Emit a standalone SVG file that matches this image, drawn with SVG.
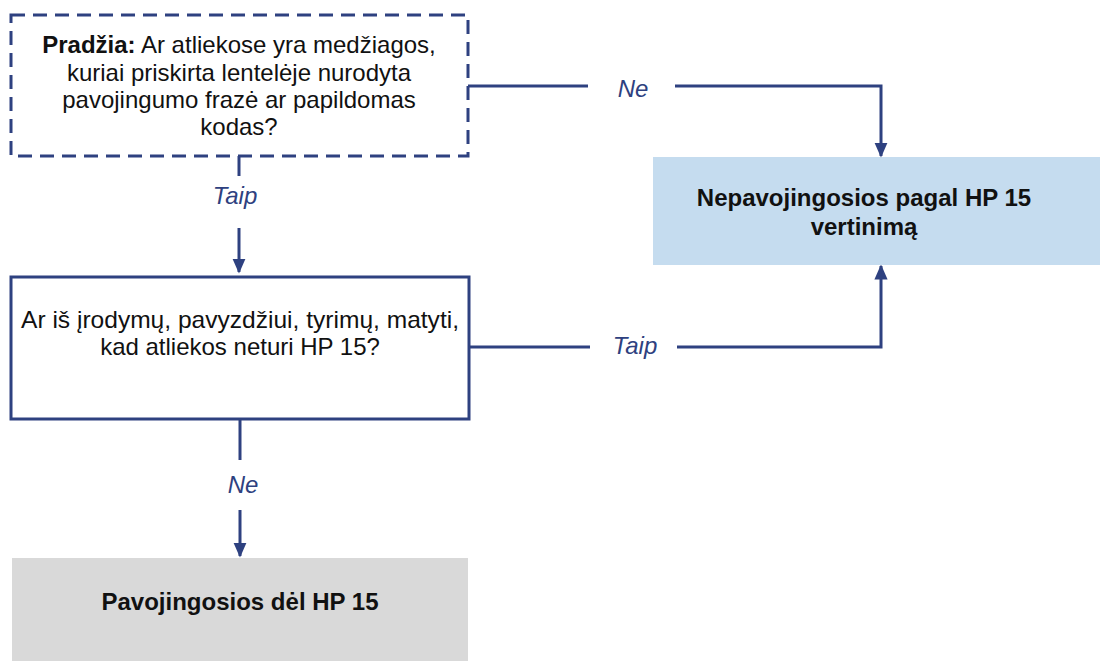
<svg xmlns="http://www.w3.org/2000/svg" width="1100" height="661" viewBox="0 0 1100 661">
<style>
.t{font-family:"Liberation Sans",Arial,sans-serif;font-size:24px;fill:#111;text-anchor:middle}
.b{font-weight:bold}
.lbl{font-family:"Liberation Sans",Arial,sans-serif;font-size:24px;font-style:italic;fill:#2E4180;text-anchor:middle}
.c{fill:none;stroke:#2E4180;stroke-width:3}
</style>
<defs>
<marker id="ah" markerWidth="5" markerHeight="4.4" refX="4.5" refY="2.2" orient="auto" markerUnits="strokeWidth">
<path d="M0,0 L5,2.2 L0,4.4 Z" fill="#2E4180"/>
</marker>
</defs>
<rect width="1100" height="661" fill="#fff"/>
<g id="start">
<rect x="11" y="15" width="457" height="141" fill="#fff" stroke="#2E4180" stroke-width="3" stroke-dasharray="14 8"/>
<text class="t" x="239" y="53"><tspan class="b">Pradžia:</tspan> Ar atliekose yra medžiagos,</text>
<text class="t" x="239" y="81">kuriai priskirta lentelėje nurodyta</text>
<text class="t" x="239" y="108">pavojingumo frazė ar papildomas</text>
<text class="t" x="239" y="135">kodas?</text>
</g>
<g id="notHazard">
<rect x="653" y="157" width="447" height="108" fill="#C5DCEF"/>
<text class="t b" x="864" y="206">Nepavojingosios pagal HP 15</text>
<text class="t b" x="864" y="235">vertinimą</text>
</g>
<g id="evidence">
<rect x="11" y="277" width="458" height="142" fill="#fff" stroke="#2E4180" stroke-width="3"/>
<text class="t" x="240" y="328" textLength="438" lengthAdjust="spacingAndGlyphs">Ar iš įrodymų, pavyzdžiui, tyrimų, matyti,</text>
<text class="t" x="240" y="355">kad atliekos neturi HP 15?</text>
</g>
<g id="hazard">
<rect x="12" y="558" width="456" height="103" fill="#D9D9D9"/>
<text class="t b" x="240" y="610">Pavojingosios dėl HP 15</text>
</g>
<g id="connectors">
<path class="c" d="M468,86 H588"/>
<path class="c" d="M675,86 H881 V156" marker-end="url(#ah)"/>
<path class="c" d="M239,156 V176"/>
<path class="c" d="M239,228 V272" marker-end="url(#ah)"/>
<path class="c" d="M469,347 H590"/>
<path class="c" d="M677,347 H881 V266" marker-end="url(#ah)"/>
<path class="c" d="M240,419 V460"/>
<path class="c" d="M240,510 V556" marker-end="url(#ah)"/>
<text class="lbl" x="633" y="97">Ne</text>
<text class="lbl" x="235" y="204">Taip</text>
<text class="lbl" x="635" y="354">Taip</text>
<text class="lbl" x="243" y="493">Ne</text>
</g>
</svg>
